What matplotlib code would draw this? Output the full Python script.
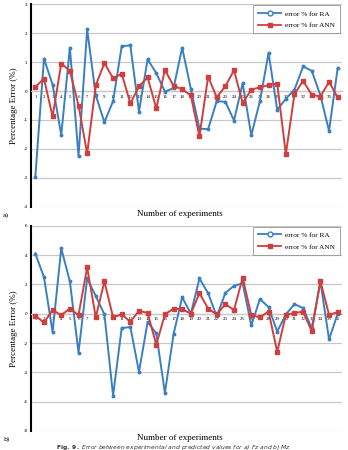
import matplotlib
matplotlib.use("Agg")
import matplotlib.pyplot as plt
from matplotlib.lines import Line2D

# ---- data ----
experiments = list(range(1, 37))

fz_ra = [-2.97, 1.12, 0.22, -1.52, 1.50, -2.25, 2.13, -0.15, -1.08, -0.35,
         1.55, 1.58, -0.71, 1.10, 0.62, -0.02, 0.10, 1.50, 0.08, -1.30,
         -1.32, -0.35, -0.37, -1.02, 0.27, -1.53, -0.35, 1.32, -0.65, -0.27,
         0.05, 0.85, 0.70, -0.15, -1.38, 0.80]
fz_ann = [0.14, 0.43, -0.88, 0.95, 0.70, -0.50, -2.16, 0.20, 0.97, 0.44,
          0.60, -0.43, 0.16, 0.47, -0.60, 0.73, 0.18, 0.06, -0.15, -1.57,
          0.50, -0.22, 0.17, 0.72, -0.42, 0.05, 0.13, 0.20, 0.26, -2.18,
          -0.10, 0.35, -0.13, -0.19, 0.32, -0.22]

mz_ra = [4.10, 2.50, -1.26, 4.45, 2.20, -2.65, 2.40, 1.20, -0.05, -5.58,
         -0.98, -0.91, -3.97, -0.56, -1.35, -5.40, -1.40, 1.12, 0.00, 2.40,
         1.40, -0.18, 1.42, 1.90, 2.07, -0.80, 1.00, 0.45, -1.22, -0.05,
         0.65, 0.38, -1.00, 2.20, -1.75, 0.00]
mz_ann = [-0.14, -0.60, 0.25, -0.10, 0.35, -0.10, 3.15, -0.24, 2.20, -0.24,
          -0.05, -0.55, 0.20, 0.05, -2.12, -0.05, 0.35, 0.31, 0.00, 1.40,
          0.35, -0.05, 0.65, 0.25, 2.45, -0.10, -0.25, 0.14, -2.60, -0.08,
          0.05, 0.14, -1.20, 2.23, -0.08, 0.11]

panels = [
    ("a)", fz_ra, fz_ann, (-4, 3), 1, (4.3, 206.7)),
    ("b)", mz_ra, mz_ann, (-8, 6), 2, (225.7, 431.0)),
]

BLUE = "#3a7fc1"
RED = "#cf3f3e"
GRID = "#c8c8c8"
W, H = 348, 450
SERIF = ["Liberation Serif", "DejaVu Serif"]

fig = plt.figure(figsize=(W / 100, H / 100), dpi=100)
fig.patch.set_facecolor("white")

for tag, ra, ann, ylim, step, (ytop, ybot) in panels:
    left, right = 31 / W, 342 / W
    ax = fig.add_axes([left, 1 - ybot / H, right - left, (ybot - ytop) / H])
    ax.set_xlim(0.5, 36.5)
    ax.set_ylim(*ylim)
    yt = list(range(ylim[0], ylim[1] + 1, step))
    ax.set_yticks(yt)
    ax.set_yticklabels([str(v) for v in yt], fontsize=3)
    for v in yt:
        ax.axhline(v, color=GRID, lw=0.9, zorder=0)

    ax.plot(experiments, ra, color=BLUE, lw=1.4, marker="o", ms=1.8,
            zorder=3, clip_on=False)
    ax.plot(experiments, ann, color=RED, lw=1.4, marker="s", ms=2.6,
            zorder=4, clip_on=False)

    for s in ("top", "right"):
        ax.spines[s].set_visible(False)
    ax.spines["left"].set_linewidth(1.5)
    ax.spines["left"].set_color("black")
    ax.spines["bottom"].set_position(("data", 0))
    ax.spines["bottom"].set_color(GRID)
    ax.spines["bottom"].set_linewidth(0.9)
    ax.set_xticks(experiments)
    ax.set_xticklabels([str(e) for e in experiments], fontsize=3.5,
                       family=SERIF)
    ax.tick_params(axis="x", length=0, pad=2.5)
    ax.tick_params(axis="y", length=0, pad=2.5)

    ax.set_ylabel("Percentage Error (%)", family=SERIF, fontsize=6.5,
                  labelpad=4)
    ax.text(0.48, -0.015, "Number of experiments", transform=ax.transAxes,
            ha="center", va="top", family=SERIF, fontsize=6.5)
    fig.text(3 / W, 1 - (ybot + 9) / H, tag, fontsize=4.5, ha="left",
             va="center")

    handles = [
        Line2D([], [], color=BLUE, lw=1.3, marker="o", ms=3.5,
               markerfacecolor="white", markeredgecolor=BLUE),
        Line2D([], [], color=RED, lw=1.3, marker="s", ms=3.2),
    ]
    leg = ax.legend(handles, ["error % for RA", "error % for ANN"],
                    loc="upper right", bbox_to_anchor=(1.004, 1.012),
                    prop={"family": SERIF, "size": 5.2}, frameon=True,
                    fancybox=False, handlelength=3.2, borderpad=0.7,
                    labelspacing=0.8, handletextpad=0.5)
    leg.get_frame().set_edgecolor("#8a8a8a")
    leg.get_frame().set_linewidth(0.7)

fig.text(0.5, 1 - 447 / H,
         r"$\bf{Fig.\ 9.}$ Error between experimental and predicted values for a) Fz and b) Mz",
         ha="center", va="center", fontsize=4.3, style="italic",
         color="#333333")

fig.savefig("out.png", dpi=100, facecolor="white")
